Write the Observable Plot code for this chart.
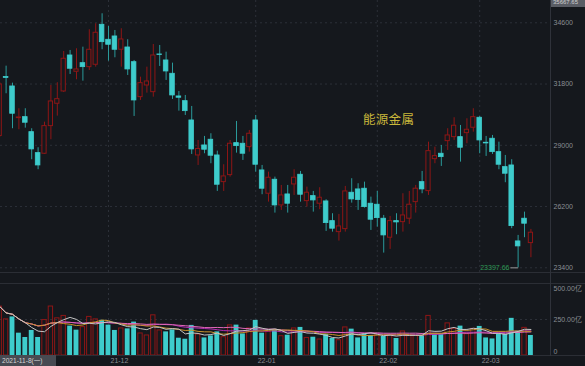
<!DOCTYPE html>
<html>
<head>
<meta charset="utf-8">
<script src="https://cdn.jsdelivr.net/npm/d3@7"></script>
<script src="https://cdn.jsdelivr.net/npm/@observablehq/plot@0.6"></script>
<style>
html,body{margin:0;padding:0;background:#15181d;}
#wrap{position:relative;width:585px;height:366px;overflow:hidden;background:#15181d;font-family:"Liberation Sans","Noto Sans CJK SC",sans-serif;}
#price,#vol{position:absolute;left:0;}
#price{top:0;}
#vol{top:272px;}
.hl{position:absolute;left:0;width:585px;height:1px;background:#2b2e35;}
.vl{position:absolute;top:0;width:1px;height:356px;background:#2f323a;}
#title{position:absolute;left:363px;top:109px;font-family:"Noto Sans CJK SC",sans-serif;font-size:12.5px;color:#c9b73b;letter-spacing:0.3px;}
#datebox{position:absolute;left:0;top:355px;width:56px;height:11px;background:#474a52;color:#d4d4d4;font-size:6.6px;line-height:11px;padding-left:2px;box-sizing:border-box;}
#topbox{position:absolute;left:551px;top:-2px;width:34px;height:9px;background:#5a5d65;color:#d0d0d0;font-size:6px;line-height:9px;padding-left:2px;box-sizing:border-box;}
</style>
</head>
<body>
<div id="wrap">
  <div id="price"></div>
  <div id="vol"></div>
  <div class="hl" style="top:272px"></div>
  <div class="hl" style="top:283px"></div>
  <div class="hl" style="top:355px"></div>
  <div class="vl" style="left:550px"></div>
  <div id="title">能源金属</div>
  <div id="datebox">2021-11-8(一)</div>
  <div id="topbox">35667.65</div>
</div>
<script>
// ---- data ----
const open = [29428,32124,31690,30241,30287,29601,28642,28614,29876,30899,
31461,33106,32362,32755,32572,32681,34509,33824,33975,33367,
33472,32800,31201,31735,31429,33152,32878,32270,31233,31018,
30136,28536,28993,29254,28536,27316,27636,29099,29071,28916,
30136,27851,26786,27426,26251,26754,27211,27654,26448,26677,
26329,26434,25534,25031,25168,26832,26983,27015,26329,26283,
25644,24775,25534,25488,25644,26402,27316,26905,28367,28614,
29190,29373,29373,29556,29802,30259,29117,29300,28687,28002,
28079,24606,25644,24529];
const high = [31873,32618,31841,30671,30671,29757,28888,30058,31735,31859,
33289,33335,33413,33486,34281,34555,35012,34432,34249,34327,
33824,32878,32115,32572,33609,33563,33257,32755,31461,31278,
30776,29222,29405,29528,28733,28111,29222,30090,29405,29679,
30364,28079,27773,27545,27165,27165,27883,27805,27088,26891,
27060,26512,25872,25840,27120,27472,27243,27316,26631,26891,
25794,25749,25872,26786,26891,27165,27805,29144,28916,28993,
29757,30259,29907,30214,30671,30319,29405,29450,29144,28536,
28340,24880,25945,25155];
const low = [29359,31356,29757,29711,29784,28340,27883,28582,29254,30333,
31416,32238,31996,31932,32421,32572,33367,32846,33001,32572,
32192,30319,31050,31384,31201,32604,31964,31096,30561,30364,
28582,28079,28614,28157,26891,26891,27545,28642,28308,28687,
27773,26740,26402,25900,26023,25900,26708,26402,26174,25945,
26055,25063,25031,24620,25031,26357,26023,26128,25109,25260,
24072,24241,24912,25031,25383,25900,26786,26708,28157,28034,
28765,29222,28230,29071,29601,28614,28491,28582,27883,27289,
25187,23397.66,24775,23861];
const close = [31781,32078,30442,30273,30031,28811,28079,29876,31004,31109,
32956,32499,32467,32572,33367,34144,33714,33595,33367,33838,
32467,31050,31841,31918,33106,33130,32375,31278,31173,30561,
28811,28830,28797,28523,27197,27577,29071,28962,28614,29528,
28111,27015,27517,26251,26708,26329,27517,26740,26832,26480,
26603,25443,25187,25292,26891,26526,26500,26174,25598,25671,
24880,25534,25475,25794,26283,27015,26983,28733,28505,28459,
29450,29894,28888,29711,30287,29222,29085,28687,28111,27700,
25306,24378,25415,25004];
const volume = [340,251,268,155,125,174,125,246,340,258,
275,204,176,197,268,251,244,211,174,188,
185,232,153,139,279,174,164,178,120,113,
209,146,122,136,164,127,209,211,150,188,
244,155,164,174,134,141,188,195,122,127,
111,146,118,106,195,183,122,150,139,146,
132,139,118,167,139,139,139,275,146,146,
223,185,204,148,185,202,122,115,146,146,
258,169,192,139];
const priceTicks = [34600, 31800, 29000, 26200, 23400];
const volTicks = [500, 250, 0];
const volTickLabels = ["500.00亿", "250.00亿", "0"];
const monthStartIdx = [17, 40, 59, 75];
const monthLabels = ["21-12", "22-01", "22-02", "22-03"];
const lowLabel = "23397.66";

// ---- styling ----
const BG = "#15181d", RED = "#8e1616", CYAN = "#3ecccc", TEALW = "#2a9a9a", GRID = "#2c3038", AX = "#8a8d93";
const XD = [0.125, 86.06];

const data = open.map((o, i) => ({
  i, open: o, high: high[i], low: low[i], close: close[i], vol: volume[i],
  up: close[i] >= o,
  volUp: i === 0 ? close[i] >= o : close[i] >= close[i - 1]
}));
const minD = data.reduce((a, b) => (b.low < a.low ? b : a));

const price = Plot.plot({
  width: 585, height: 272, marginLeft: 0, marginRight: 35, marginTop: 0, marginBottom: 0,
  style: {background: "transparent", color: AX, fontSize: "7px", fontFamily: "Liberation Sans, sans-serif"},
  x: {domain: XD, axis: null},
  y: {domain: [23185, 35619], axis: null},
  color: {type: "identity"},
  marks: [
    Plot.ruleY(priceTicks, {stroke: GRID, strokeDasharray: "2,3"}),
    Plot.ruleX(monthStartIdx, {stroke: GRID, strokeDasharray: "2,3"}),
    Plot.ruleX(data, {x: "i", y1: "low", y2: "high", stroke: d => d.up ? RED : TEALW, strokeWidth: 1, clip: true}),
    Plot.rect(data.filter(d => !d.up), {x1: d => d.i - 0.36, x2: d => d.i + 0.36, y1: "open", y2: "close", fill: CYAN, stroke: CYAN, strokeWidth: 0.8, clip: true}),
    Plot.rect(data.filter(d => d.up), {x1: d => d.i - 0.33, x2: d => d.i + 0.33, y1: "open", y2: "close", fill: BG, stroke: RED, strokeWidth: 1, clip: true}),
    Plot.text(priceTicks, {x: () => XD[1], y: d => d, text: d => String(d), dx: 3, textAnchor: "start", fill: AX}),
    Plot.link([minD], {x1: d => d.i - 1.2, x2: d => d.i, y1: "low", y2: "low", stroke: "#9a9a9a", strokeWidth: 1}),
    Plot.text([minD], {x: d => d.i - 1.2, y: "low", text: () => lowLabel, textAnchor: "end", dx: -1, fill: "#2f9a55", fontSize: 7})
  ]
});
document.getElementById("price").appendChild(price);

const vol = Plot.plot({
  width: 585, height: 94, marginLeft: 0, marginRight: 35, marginTop: 11, marginBottom: 11,
  style: {background: "transparent", color: AX, fontSize: "7px", fontFamily: "Liberation Sans, Noto Sans CJK SC, sans-serif"},
  x: {domain: XD, axis: null},
  y: {domain: [0, 500], axis: null},
  color: {type: "identity"},
  marks: [
    Plot.ruleY([volTicks[1]], {stroke: GRID, strokeDasharray: "2,3"}),
    Plot.ruleX(monthStartIdx, {stroke: GRID, strokeDasharray: "2,3"}),
    Plot.rect(data.filter(d => !d.volUp), {x1: d => d.i - 0.38, x2: d => d.i + 0.38, y1: 0, y2: "vol", fill: CYAN, clip: true}),
    Plot.rect(data.filter(d => d.volUp), {x1: d => d.i - 0.34, x2: d => d.i + 0.34, y1: 0, y2: "vol", fill: "none", stroke: RED, strokeWidth: 1, clip: true}),
    Plot.lineY(data, Plot.windowY({k: 20, anchor: "end"}, {x: "i", y: "vol", stroke: "#b02cb0", strokeWidth: 1, clip: true})),
    Plot.lineY(data, Plot.windowY({k: 30, anchor: "end"}, {x: "i", y: "vol", stroke: "#e068b8", strokeWidth: 1, clip: true})),
    Plot.lineY(data, Plot.windowY({k: 10, anchor: "end"}, {x: "i", y: "vol", stroke: "#c8922a", strokeWidth: 1, clip: true})),
    Plot.lineY(data, Plot.windowY({k: 5, anchor: "end"}, {x: "i", y: "vol", stroke: "#c4c4c4", strokeWidth: 1, clip: true})),
    Plot.text([volTicks[0]], {x: () => XD[1], y: d => d, text: () => volTickLabels[0], dx: 3, dy: 5, textAnchor: "start", fill: AX}),
    Plot.text([volTicks[1]], {x: () => XD[1], y: d => d, text: () => volTickLabels[1], dx: 3, textAnchor: "start", fill: AX}),
    Plot.text([volTicks[2]], {x: () => XD[1], y: d => d, text: () => volTickLabels[2], dx: 3, dy: -4, textAnchor: "start", fill: AX}),
    Plot.text(monthStartIdx, {x: d => d, y: () => 0, text: (d, i) => monthLabels[i], dx: 2, dy: 5, textAnchor: "start", fill: AX})
  ]
});
document.getElementById("vol").appendChild(vol);
</script>
</body>
</html>
